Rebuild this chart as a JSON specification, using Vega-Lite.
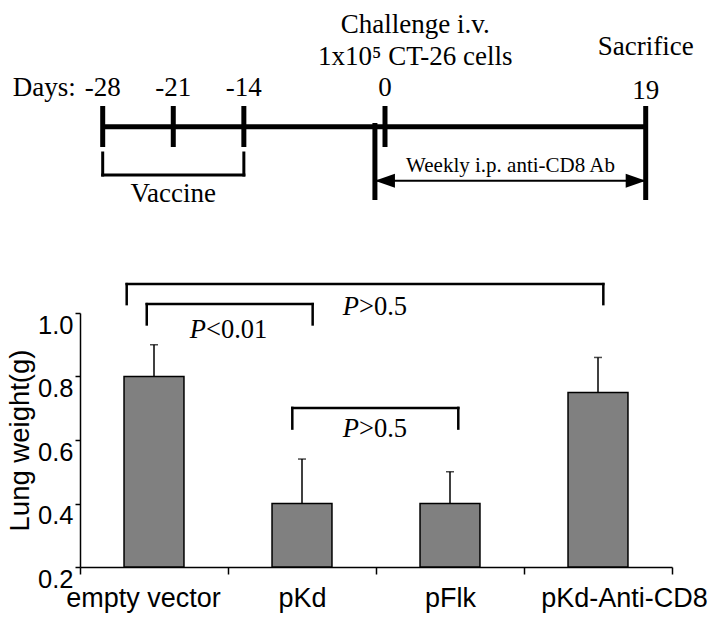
{
  "$schema": "https://vega.github.io/schema/vega-lite/v6.json",
  "width": 592,
  "height": 254,
  "autosize": {"type": "none"},
  "padding": {"left": 80, "top": 313, "right": 47, "bottom": 56},
  "background": "white",
  "config": {
    "view": {"stroke": null},
    "axis": {"domainColor": "black", "tickColor": "black", "labelColor": "black", "titleColor": "black", "grid": false}
  },
  "datasets": {
    "bars": [
      {"group": "empty vector", "mean": 0.80, "upper": 0.90},
      {"group": "pKd", "mean": 0.40, "upper": 0.54},
      {"group": "pFlk", "mean": 0.40, "upper": 0.50},
      {"group": "pKd-Anti-CD8", "mean": 0.75, "upper": 0.86}
    ],
    "brackets": [
      {"x1": 0.3155, "x2": 3.536, "top": 1.091, "leg": 1.028},
      {"x1": 0.451, "x2": 1.572, "top": 1.028, "leg": 0.964},
      {"x1": 1.4345, "x2": 2.556, "top": 0.701, "leg": 0.636}
    ],
    "ptext": [
      {"gx": 0.851, "y": 0.92, "rest": "<0.01"},
      {"gx": 1.885, "y": 0.994, "rest": ">0.5"},
      {"gx": 1.885, "y": 0.61, "rest": ">0.5"}
    ],
    "tlines": [
      {"day": -28, "lo": 6.6, "hi": 10.7},
      {"day": -21, "lo": 6.6, "hi": 10.7},
      {"day": -14, "lo": 6.6, "hi": 10.7},
      {"day": 0, "lo": 6.6, "hi": 10.7},
      {"day": 19, "lo": 1.3, "hi": 10.7},
      {"day": -1, "lo": 1.3, "hi": 9.0}
    ],
    "vacc": [
      {"day": -28, "lo": 3.8, "hi": 6.0},
      {"day": -14, "lo": 3.8, "hi": 6.0}
    ],
    "spans": [
      {"kind": "axis", "from": -28, "to": 19, "level": 8.63},
      {"kind": "vaccine", "from": -28, "to": -14, "level": 3.8},
      {"kind": "arrow", "from": -1, "to": 19, "level": 3.23}
    ],
    "heads": [
      {"dir": "left", "day": -1, "level": 3.23},
      {"dir": "right", "day": 19, "level": 3.23}
    ],
    "notes": [
      {"kind": "days", "text": "Days:", "day": -28, "level": 11.75},
      {"kind": "tick", "text": "-28", "day": -28, "level": 11.75},
      {"kind": "tick", "text": "-21", "day": -21, "level": 11.75},
      {"kind": "tick", "text": "-14", "day": -14, "level": 11.75},
      {"kind": "tick", "text": "0", "day": 0, "level": 11.75},
      {"kind": "tick", "text": "19", "day": 19, "level": 11.4},
      {"kind": "big", "text": "Challenge i.v.", "day": 2.2, "level": 18.0},
      {"kind": "big", "text": "1x10⁵ CT-26 cells", "day": 2.2, "level": 14.8},
      {"kind": "big", "text": "Sacrifice", "day": 19, "level": 15.8},
      {"kind": "big", "text": "Vaccine", "day": -21, "level": 1.07},
      {"kind": "small", "text": "Weekly i.p. anti-CD8 Ab", "day": 9.15, "level": 4.13}
    ]
  },
  "layer": [
    {
      "data": {"name": "bars"},
      "layer": [
        {
          "mark": {"type": "bar", "fill": "#808080", "stroke": "black", "strokeWidth": 1.5, "width": {"band": 0.405}},
          "encoding": {
            "x": {
              "field": "group", "type": "nominal", "sort": null,
              "scale": {"paddingInner": 0, "paddingOuter": 0},
              "axis": {
                "title": null, "tickBand": "extent", "tickSize": 7, "tickWidth": 1.5, "domainWidth": 1.5,
                "labelFont": "Liberation Sans", "labelFontSize": 27, "labelPadding": 11, "labelAngle": 0,
                "labelOffset": {"condition": [{"test": "datum.value == 'empty vector'", "value": -11}, {"test": "datum.value == 'pKd-Anti-CD8'", "value": 26}], "value": 0}
              }
            },
            "y": {
              "field": "mean", "type": "quantitative",
              "scale": {"domain": [0.2, 1.0], "zero": false, "nice": false},
              "axis": {
                "title": "Lung weight(g)", "values": [0.2, 0.4, 0.6, 0.8, 1.0], "format": ".1f",
                "tickSize": 5, "tickWidth": 1.5, "domainWidth": 1.5,
                "labelFont": "Liberation Sans", "labelFontSize": 25.5, "labelBaseline": "top", "labelPadding": 2,
                "labelFlush": false, "labelOverlap": false,
                "titleFont": "Liberation Sans", "titleFontSize": 27.5, "titleFontWeight": "normal", "titlePadding": 3
              }
            },
            "y2": {"datum": 0.2}
          }
        },
        {
          "mark": {"type": "rule", "color": "black", "strokeWidth": 1.5},
          "encoding": {
            "x": {"field": "group", "type": "nominal", "sort": null},
            "y": {"field": "mean", "type": "quantitative"},
            "y2": {"field": "upper"}
          }
        },
        {
          "mark": {"type": "tick", "color": "black", "thickness": 1.5, "size": 8},
          "encoding": {
            "x": {"field": "group", "type": "nominal", "sort": null},
            "y": {"field": "upper", "type": "quantitative"}
          }
        }
      ]
    },
    {
      "layer": [
        {
          "data": {"name": "brackets"},
          "mark": {"type": "rule", "color": "black", "strokeWidth": 2.5, "strokeCap": "square"},
          "encoding": {
            "x": {"field": "x1", "type": "quantitative", "scale": {"domain": [0, 4], "nice": false, "zero": false}, "axis": null},
            "x2": {"field": "x2"},
            "y": {"field": "top", "type": "quantitative", "scale": {"domain": [0.2, 1.0], "nice": false, "zero": false}, "axis": null}
          }
        },
        {
          "data": {"name": "brackets"},
          "mark": {"type": "rule", "color": "black", "strokeWidth": 2.5, "strokeCap": "square"},
          "encoding": {
            "x": {"field": "x1", "type": "quantitative"},
            "y": {"field": "top", "type": "quantitative"},
            "y2": {"field": "leg"}
          }
        },
        {
          "data": {"name": "brackets"},
          "mark": {"type": "rule", "color": "black", "strokeWidth": 2.5, "strokeCap": "square"},
          "encoding": {
            "x": {"field": "x2", "type": "quantitative"},
            "y": {"field": "top", "type": "quantitative"},
            "y2": {"field": "leg"}
          }
        },
        {
          "data": {"name": "ptext"},
          "mark": {"type": "text", "font": "Liberation Serif", "fontSize": 26.5, "fontStyle": "italic", "align": "right", "baseline": "alphabetic", "color": "black"},
          "encoding": {
            "x": {"field": "gx", "type": "quantitative"},
            "y": {"field": "y", "type": "quantitative"},
            "text": {"value": "P"}
          }
        },
        {
          "data": {"name": "ptext"},
          "mark": {"type": "text", "font": "Liberation Serif", "fontSize": 26.5, "align": "left", "baseline": "alphabetic", "color": "black"},
          "encoding": {
            "x": {"field": "gx", "type": "quantitative"},
            "y": {"field": "y", "type": "quantitative"},
            "text": {"field": "rest"}
          }
        }
      ]
    },
    {
      "layer": [
        {
          "data": {"name": "spans"},
          "transform": [{"filter": "datum.kind == 'axis'"}],
          "mark": {"type": "rule", "color": "black", "strokeWidth": 5},
          "encoding": {
            "x": {"field": "from", "type": "quantitative", "scale": {"domain": [-28, 0, 19], "range": [22.7, 305, 565.7], "nice": false, "zero": false}, "axis": null},
            "x2": {"field": "to"},
            "y": {"field": "level", "type": "quantitative", "scale": {"domain": [0, 20], "range": [-100, -300], "nice": false, "zero": false}, "axis": null}
          }
        },
        {
          "data": {"name": "spans"},
          "transform": [{"filter": "datum.kind == 'vaccine'"}],
          "mark": {"type": "rule", "color": "black", "strokeWidth": 3, "strokeCap": "square"},
          "encoding": {
            "x": {"field": "from", "type": "quantitative"},
            "x2": {"field": "to"},
            "y": {"field": "level", "type": "quantitative"}
          }
        },
        {
          "data": {"name": "spans"},
          "transform": [{"filter": "datum.kind == 'arrow'"}],
          "mark": {"type": "rule", "color": "black", "strokeWidth": 2},
          "encoding": {
            "x": {"field": "from", "type": "quantitative"},
            "x2": {"field": "to"},
            "y": {"field": "level", "type": "quantitative"}
          }
        },
        {
          "data": {"name": "tlines"},
          "mark": {"type": "rule", "color": "black", "strokeWidth": 5},
          "encoding": {
            "x": {"field": "day", "type": "quantitative"},
            "y": {"field": "lo", "type": "quantitative"},
            "y2": {"field": "hi"}
          }
        },
        {
          "data": {"name": "vacc"},
          "mark": {"type": "rule", "color": "black", "strokeWidth": 3, "strokeCap": "square"},
          "encoding": {
            "x": {"field": "day", "type": "quantitative"},
            "y": {"field": "lo", "type": "quantitative"},
            "y2": {"field": "hi"}
          }
        },
        {
          "data": {"name": "heads"},
          "transform": [{"filter": "datum.dir == 'right'"}],
          "mark": {"type": "point", "shape": "M0,0L-2,-0.7L-2,0.7Z", "filled": true, "color": "black", "opacity": 1, "size": 400},
          "encoding": {
            "x": {"field": "day", "type": "quantitative"},
            "y": {"field": "level", "type": "quantitative"}
          }
        },
        {
          "data": {"name": "heads"},
          "transform": [{"filter": "datum.dir == 'left'"}],
          "mark": {"type": "point", "shape": "M0,0L2,-0.7L2,0.7Z", "filled": true, "color": "black", "opacity": 1, "size": 400},
          "encoding": {
            "x": {"field": "day", "type": "quantitative"},
            "y": {"field": "level", "type": "quantitative"}
          }
        },
        {
          "data": {"name": "notes"},
          "transform": [{"filter": "datum.kind == 'days'"}],
          "mark": {"type": "text", "font": "Liberation Serif", "fontSize": 27, "align": "right", "baseline": "alphabetic", "dx": -27, "color": "black"},
          "encoding": {
            "x": {"field": "day", "type": "quantitative"},
            "y": {"field": "level", "type": "quantitative"},
            "text": {"field": "text"}
          }
        },
        {
          "data": {"name": "notes"},
          "transform": [{"filter": "datum.kind == 'tick' || datum.kind == 'big'"}],
          "mark": {"type": "text", "font": "Liberation Serif", "fontSize": 27, "align": "center", "baseline": "alphabetic", "color": "black"},
          "encoding": {
            "x": {"field": "day", "type": "quantitative"},
            "y": {"field": "level", "type": "quantitative"},
            "text": {"field": "text"}
          }
        },
        {
          "data": {"name": "notes"},
          "transform": [{"filter": "datum.kind == 'small'"}],
          "mark": {"type": "text", "font": "Liberation Serif", "fontSize": 21, "align": "center", "baseline": "alphabetic", "color": "black"},
          "encoding": {
            "x": {"field": "day", "type": "quantitative"},
            "y": {"field": "level", "type": "quantitative"},
            "text": {"field": "text"}
          }
        }
      ]
    }
  ],
  "resolve": {"scale": {"x": "independent", "y": "independent"}}
}
